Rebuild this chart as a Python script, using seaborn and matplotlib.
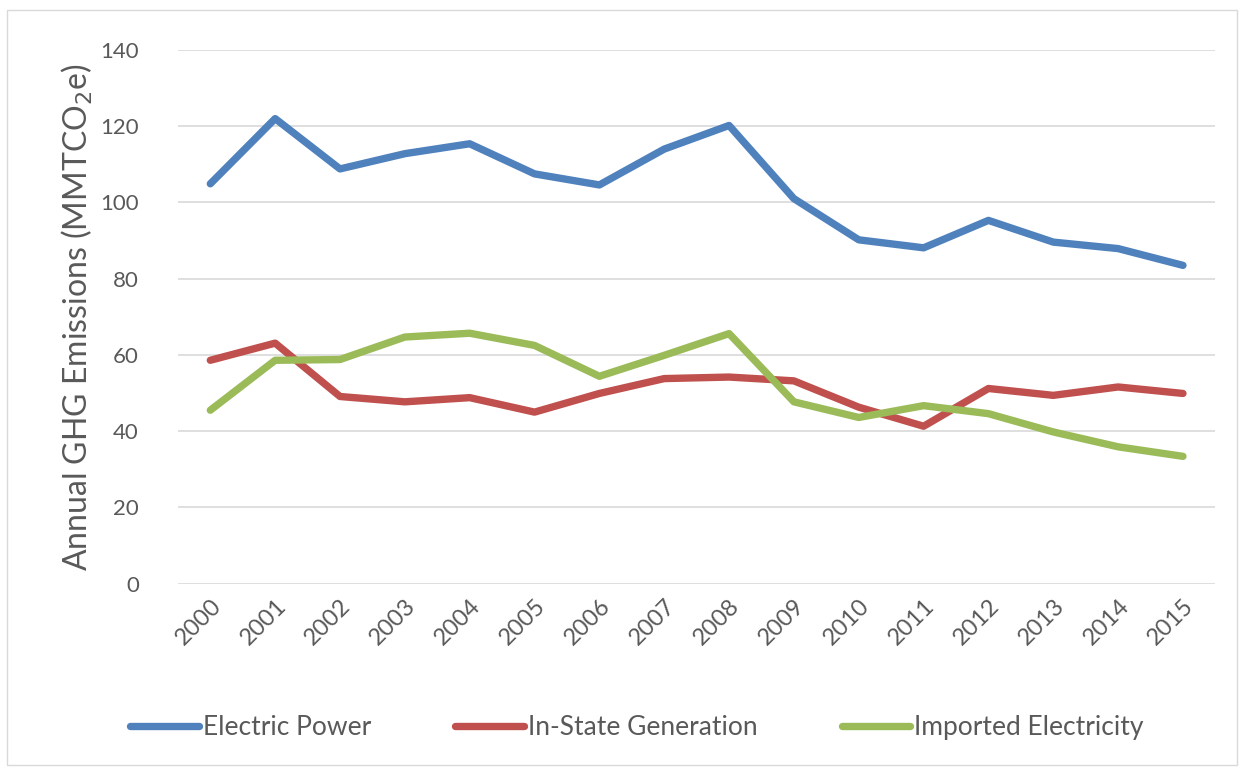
import matplotlib
matplotlib.use("Agg")
import matplotlib.pyplot as plt
import seaborn as sns
import pandas as pd
from matplotlib.patches import Rectangle

years = [str(y) for y in range(2000, 2016)]
electric_power = [104.9, 122.0, 108.8, 112.8, 115.4, 107.5, 104.6, 114.0, 120.2, 101.0, 90.2, 88.1, 95.3, 89.6, 87.9, 83.5]
in_state = [58.6, 63.1, 49.1, 47.7, 48.8, 45.0, 49.9, 53.8, 54.2, 53.2, 46.3, 41.3, 51.2, 49.4, 51.6, 49.9]
imported = [45.5, 58.6, 58.8, 64.7, 65.7, 62.5, 54.4, 59.9, 65.6, 47.7, 43.6, 46.7, 44.6, 39.8, 35.9, 33.4]
series_names = ["Electric Power", "In-State Generation", "Imported Electricity"]
colors = ["#4F81BD", "#C0504D", "#9BBB59"]

df = pd.DataFrame({
    "Year": years * 3,
    "Value": electric_power + in_state + imported,
    "Series": [series_names[0]] * 16 + [series_names[1]] * 16 + [series_names[2]] * 16,
})
df["pos"] = df["Year"].map({y: i for i, y in enumerate(years)})

sns.set_style("white")
plt.rcParams["font.family"] = ["Lato", "DejaVu Sans"]

fig = plt.figure(figsize=(12.44, 7.69), dpi=100)
ax = fig.add_axes([0.143, 0.241, 0.834, 0.694])

sns.lineplot(data=df, x="pos", y="Value", hue="Series", palette=colors,
             linewidth=5.3, ax=ax, legend=True, solid_capstyle="round")

ax.set_xlim(-0.5, 15.5)
ax.set_ylim(0, 140)
ax.set_yticks(range(0, 141, 20))
ax.set_xticks(range(len(years)))
ax.set_xticklabels(years, rotation=45, ha="right", rotation_mode="anchor")
ax.tick_params(axis="y", labelsize=16, colors="#595959", length=0, pad=28)
ax.tick_params(axis="x", labelsize=17, colors="#595959", length=0, pad=8)
ax.grid(axis="y", color="#D9D9D9", linewidth=1.2)
ax.set_axisbelow(True)
for s in ax.spines.values():
    s.set_visible(False)
ax.set_xlabel("")
ax.set_ylabel("Annual GHG Emissions (MMTCO$_2$e)", fontsize=23, color="#595959", labelpad=4)

handles, labels = ax.get_legend_handles_labels()
ax.legend_.remove()
leg = fig.legend(handles, labels, loc="center", bbox_to_anchor=(0.512, 0.054), ncol=3,
                 frameon=False, fontsize=19, handlelength=2.6, columnspacing=3.2,
                 handletextpad=0.15)
for t in leg.get_texts():
    t.set_color("#595959")
for l in leg.get_lines():
    l.set_linewidth(5.3)

fig.patches.append(Rectangle((0.006, 0.005), 0.988, 0.982, transform=fig.transFigure,
                             fill=False, edgecolor="#D9D9D9", linewidth=1))

fig.savefig("out.png", dpi=100)
